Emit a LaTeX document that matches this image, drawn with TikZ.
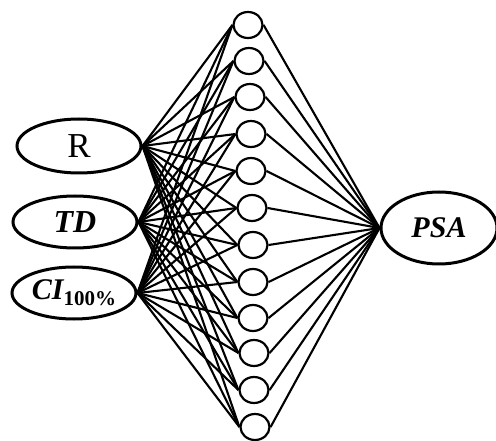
\documentclass[tikz,border=0pt]{standalone}
\usepackage{fontspec}
\setmainfont{Liberation Serif}
\usetikzlibrary{shapes.geometric}
\begin{document}
\begin{tikzpicture}[x=1pt,y=-1pt,
  inp/.style={draw,line width=3pt,ellipse,inner sep=0pt,minimum width=#1},
  hid/.style={draw,line width=2.2pt,ellipse,inner sep=0pt,minimum width=29pt,minimum height=26pt},
  wire/.style={line width=2.1pt}]
\useasboundingbox (0,0) rectangle (496,441);
\node[inp=124pt,minimum height=54pt] (R) at (79,146) {\fontsize{35}{35}\selectfont R};
\node[inp=124pt,minimum height=52pt] (TD) at (75,222) {\fontsize{32}{32}\selectfont\bfseries\itshape TD};
\node[inp=124pt,minimum height=52pt] (CI) at (74,293) {\fontsize{30}{30}\selectfont\bfseries\itshape CI\raisebox{-6pt}{\fontsize{21}{21}\selectfont\upshape 100\%}};
\node[inp=116pt,minimum height=72pt] (PSA) at (439,228) {\fontsize{30}{30}\selectfont\bfseries\itshape PSA};
\foreach \i/\x/\y in {1/248/25,2/249/61,3/250/97,4/251/134,5/251/171,6/252/208,7/253/245,8/253/282,9/253/318,10/254/353,11/254/390,12/255/427}{
  \node[hid] (h\i) at (\x,\y) {};
}
\foreach \i in {1,...,12}{
  \draw[wire] (R.east) -- (h\i.west);
  \draw[wire] (TD.east) -- (h\i.west);
  \draw[wire] (CI.east) -- (h\i.west);
  \draw[wire] (h\i.east) -- (PSA.west);
}
\end{tikzpicture}
\end{document}
